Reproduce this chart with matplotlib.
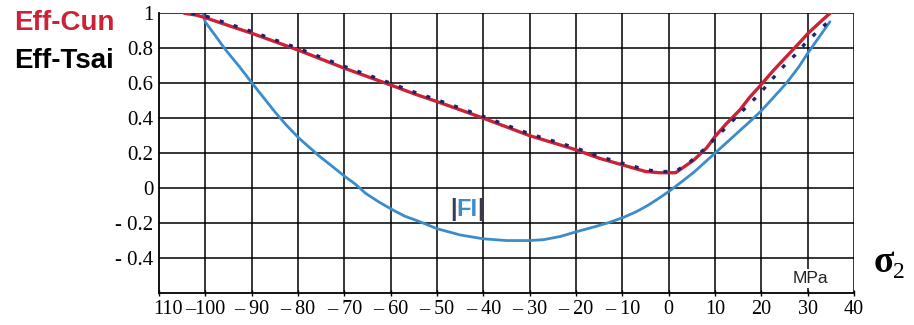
import matplotlib
matplotlib.use("Agg")
import matplotlib.pyplot as plt

# ---- data ----
x_ticks = [-110, -100, -90, -80, -70, -60, -50, -40, -30, -20, -10, 0, 10, 20, 30, 40]
x_ticklabels = ["110", "–100", "– 90", "– 80", "– 70", "– 60", "– 50", "– 40", "– 30",
                "– 20", "– 10", "0", "10", "20", "30", "40"]
y_ticks = [-0.4, -0.2, 0, 0.2, 0.4, 0.6, 0.8, 1]
y_ticklabels = ["- 0.4", "- 0.2", "0", "0.2", "0.4", "0.6", "0.8", "1"]

cun_x = [-104.5, -102, -100, -95, -90, -85, -80, -75, -70, -65, -60, -55, -50, -45, -40, -35,
         -30, -25, -20, -15, -10, -5, -2, 1.5, 5.4, 8.2, 10, 12.5, 15.4, 17.5, 19.9, 22.5, 25.4,
         28, 30.1, 32.5, 34.8]
cun_y = [1.0, 0.99, 0.975, 0.93, 0.886, 0.838, 0.79, 0.738, 0.686, 0.638, 0.59, 0.54, 0.495,
         0.448, 0.40, 0.35, 0.30, 0.26, 0.219, 0.171, 0.133, 0.095, 0.088, 0.088, 0.16, 0.23,
         0.295, 0.37, 0.448, 0.52, 0.59, 0.67, 0.752, 0.825, 0.886, 0.945, 1.0]

tsai_x = [-103, -100, -95, -90, -85, -80, -75, -70, -65, -60, -55, -50, -45, -40, -35, -30,
          -25, -20, -15, -10, -5, -2, 1.5, 4.7, 8, 10.8, 13.6, 16.5, 19.4, 21.9, 24.4, 27.3,
          29.8, 33.3, 34.2]
tsai_y = [1.0, 0.985, 0.94, 0.896, 0.848, 0.80, 0.748, 0.696, 0.648, 0.60, 0.55, 0.505, 0.458,
          0.41, 0.36, 0.31, 0.27, 0.229, 0.181, 0.143, 0.105, 0.095, 0.095, 0.152, 0.23,
          0.305, 0.38, 0.457, 0.533, 0.61, 0.686, 0.762, 0.838, 0.924, 0.945]

fi_x = [-100.5, -100, -97.5, -95.6, -92.5, -89.9, -87.5, -84.8, -82.5, -79.8, -77.5, -75.5,
        -72.5, -69.9, -67.5, -65.4, -62.5, -59.6, -57, -53.9, -50, -45, -40, -35, -30, -27,
        -23.3, -20, -16.1, -13, -9.8, -7, -4.7, -2.5, 0, 2.5, 5.4, 7.5, 10, 12.5, 15.4, 17.5,
        19.9, 22.5, 25.4, 28, 30.1, 32.5, 34.8]
fi_y = [0.99, 0.95, 0.86, 0.79, 0.69, 0.60, 0.52, 0.43, 0.36, 0.286, 0.232, 0.185, 0.122,
        0.067, 0.02, -0.03, -0.08, -0.124, -0.16, -0.19, -0.232, -0.268, -0.29, -0.30, -0.30,
        -0.295, -0.276, -0.25, -0.222, -0.198, -0.168, -0.135, -0.102, -0.065, -0.02, 0.03,
        0.09, 0.14, 0.20, 0.26, 0.33, 0.38, 0.44, 0.515, 0.60, 0.69, 0.775, 0.865, 0.952]

RED = "#cc2236"
BLUE = "#3b8ccb"
NAVY = "#1c2470"

fig = plt.figure(figsize=(9.14, 3.25), dpi=100)
ax = fig.add_axes([159 / 914, 1 - 293 / 325, (854 - 159) / 914, (293 - 13.3) / 325])
ax.set_xlim(-110, 40)
ax.set_ylim(-0.6, 1.0)

# grid
for xv in x_ticks[1:]:
    ax.axvline(xv, color="black", lw=1.1, zorder=1)
for yv in y_ticks:
    ax.axhline(yv, color="black", lw=1.1, zorder=1)

for s in ["top", "right"]:
    ax.spines[s].set_visible(False)
ax.spines["left"].set_linewidth(1.3)
ax.spines["bottom"].set_linewidth(1.3)

ax.plot(fi_x, fi_y, color=BLUE, lw=2.0, zorder=3, solid_capstyle="round",
        solid_joinstyle="round")
ax.plot(cun_x, cun_y, color=RED, lw=2.4, zorder=4, solid_capstyle="round",
        solid_joinstyle="round")
ax.plot(tsai_x, tsai_y, color=NAVY, lw=2.4, ls=(0, (1.2, 3.2)), zorder=5)

ax.set_xticks(x_ticks)
ax.set_xticklabels([""] + x_ticklabels[1:], family="Liberation Serif", fontsize=14.5)
ax.set_yticks(y_ticks)
ax.set_yticklabels(y_ticklabels, family="Liberation Serif", fontsize=15)
ax.tick_params(axis="x", length=4, width=1, direction="inout", pad=3)
ax.tick_params(axis="y", length=0, pad=4)

# first x tick label, left-aligned at the axis origin
ax.annotate(x_ticklabels[0], xy=(x_ticks[0], 0), xycoords=ax.get_xaxis_transform(),
            xytext=(-4, -5), textcoords="offset points", ha="left", va="top",
            family="Liberation Serif", fontsize=14.5)

# texts
fig.text(14 / 914, 1 - 23 / 325, "Eff-Cun", color=RED, fontsize=20, fontweight="bold",
         family="Liberation Sans", va="center", ha="left")
fig.text(14 / 914, 1 - 61 / 325, "Eff-Tsai", color="black", fontsize=20, fontweight="bold",
         family="Liberation Sans", va="center", ha="left")

t_fi = ax.text(-43.5, -0.12, "FI", color=BLUE, fontsize=17, fontweight="bold",
               family="Liberation Sans", ha="center", va="center", zorder=6)
ax.annotate("|", xy=(0, 0.5), xycoords=t_fi, ha="right", va="center", color="#3a3a4a",
            fontsize=17, fontweight="bold", family="Liberation Sans")
ax.annotate("|", xy=(1, 0.5), xycoords=t_fi, ha="left", va="center", color="#3a3a4a",
            fontsize=17, fontweight="bold", family="Liberation Sans")

ax.text(30.5, -0.515, "MPa", fontsize=12.5, family="Liberation Sans", ha="center",
        va="center", color="#222222", zorder=6,
        bbox=dict(facecolor="white", edgecolor="none", pad=1.5))

fig.text(874 / 914, 1 - 262 / 325, "σ", fontsize=27, fontweight="bold",
         family="Liberation Serif", ha="left", va="center")
fig.text(893 / 914, 1 - 273 / 325, "2", fontsize=17, family="Liberation Serif",
         ha="left", va="center")

fig.savefig("out.png", dpi=100, facecolor="white")
